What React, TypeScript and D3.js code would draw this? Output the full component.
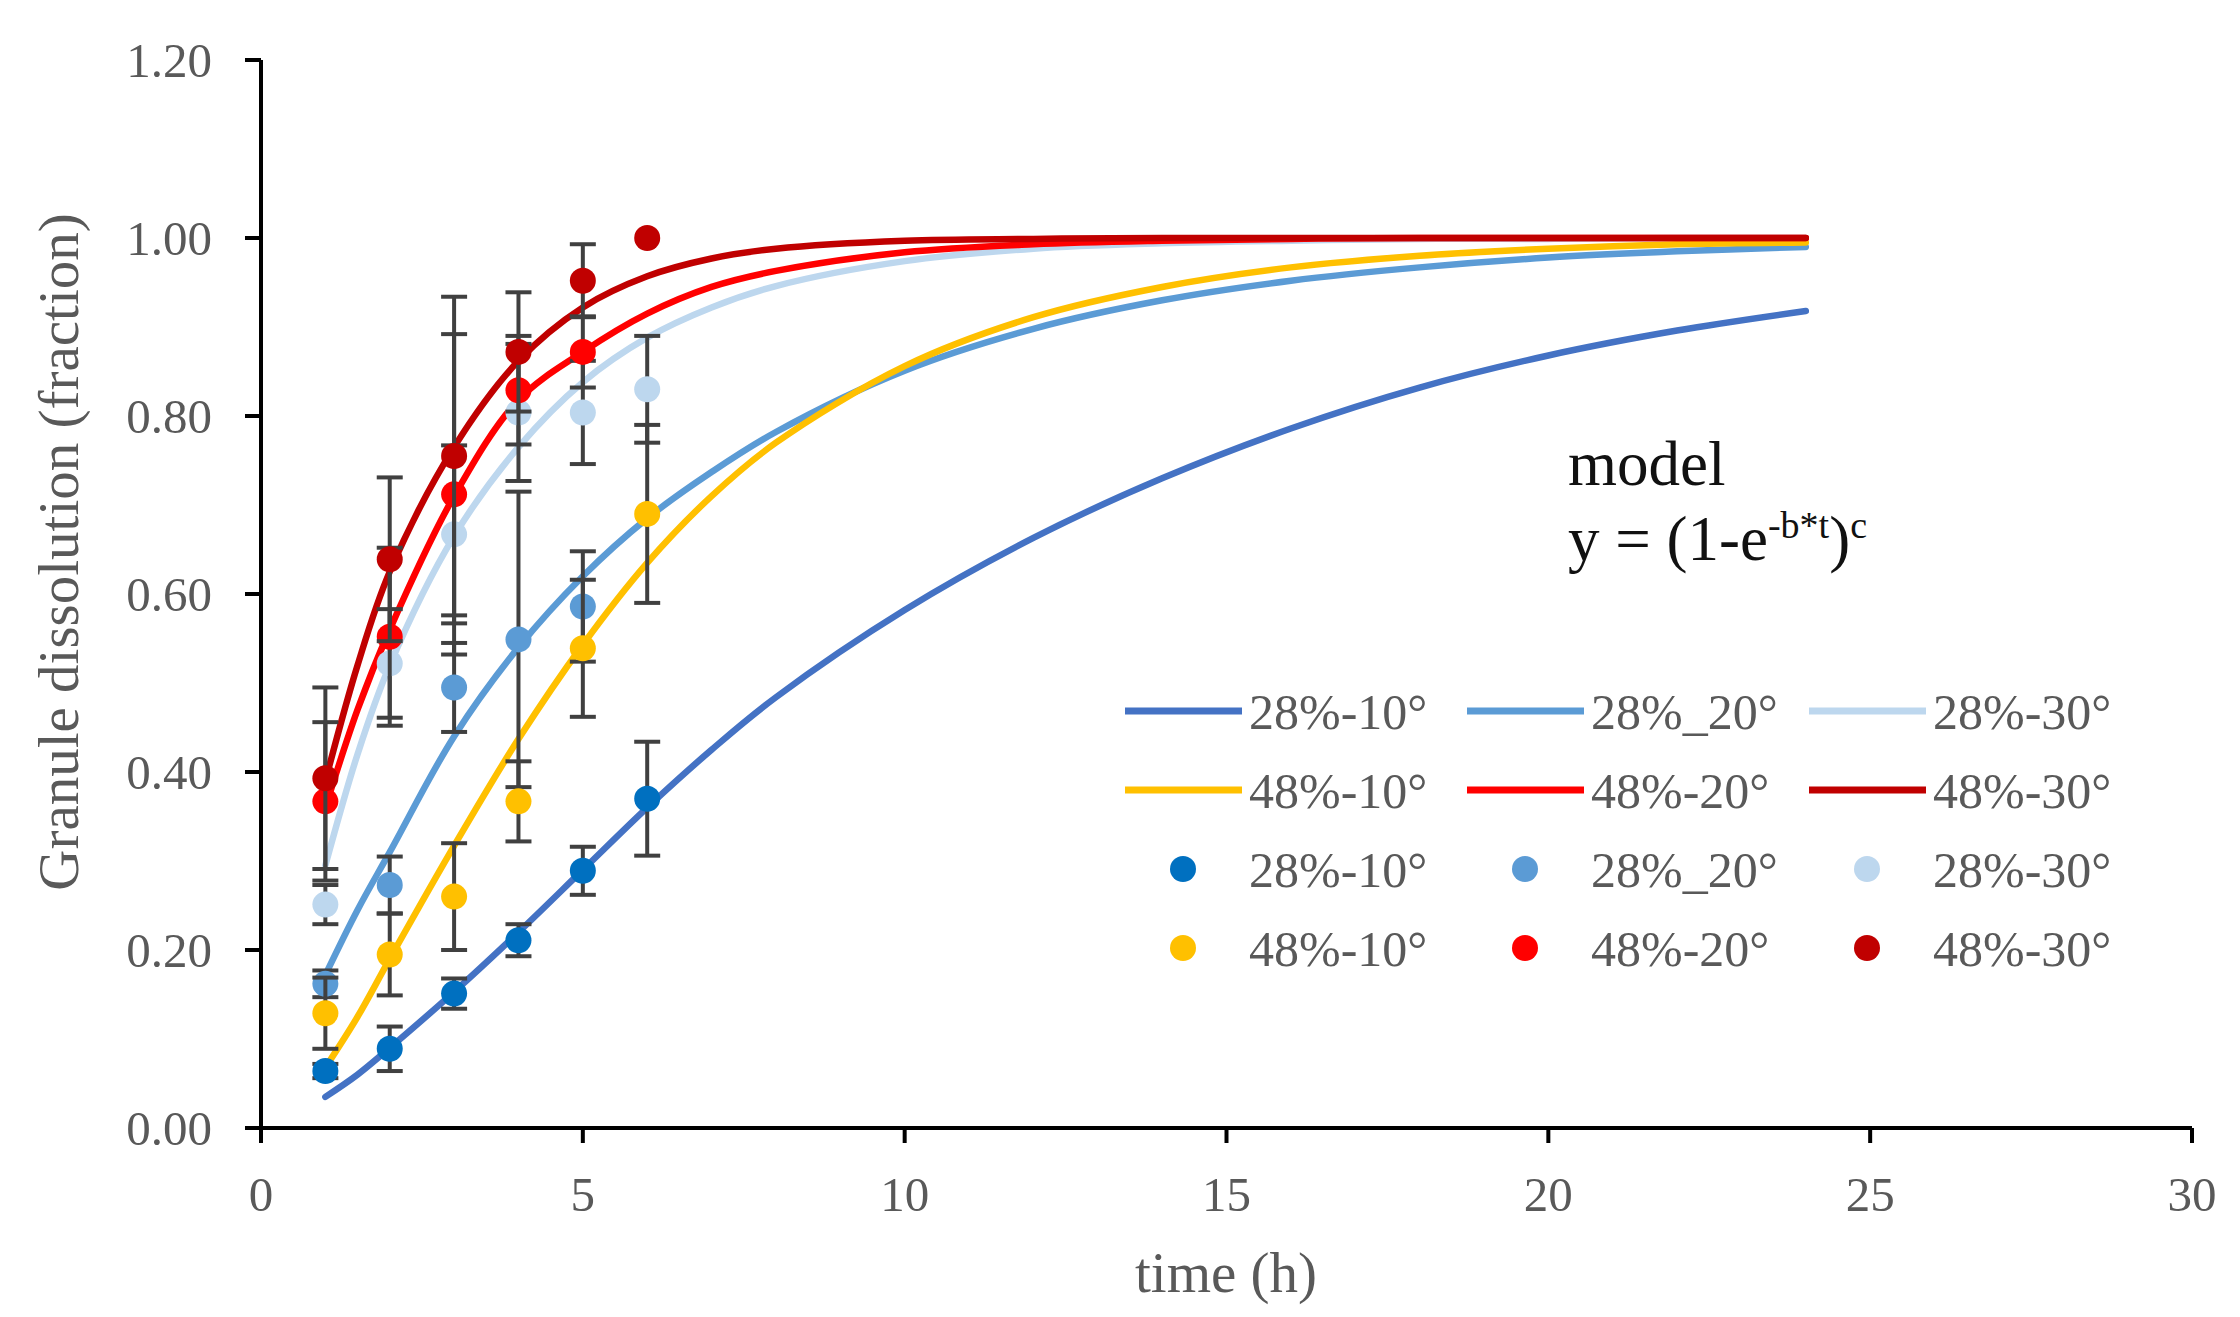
import React from 'react';
import * as d3 from 'd3';

// observed dissolution (mean) and error bars, t = 1..6 h
const obsTimes = [1, 2, 3, 4, 5, 6];
const obs28_10 = [0.064, 0.089, 0.151, 0.211, 0.289, 0.37];
const err28_10 = [0.008, 0.025, 0.017, 0.018, 0.027, 0.064];
const obs28_20 = [0.162, 0.273, 0.495, 0.549, 0.586];
const err28_20 = [0.015, 0.032, 0.05, 0.166, 0.062];
const obs28_30 = [0.251, 0.522, 0.667, 0.804, 0.804, 0.83];
const err28_30 = [0.022, 0.061, 0.1, 0.077, 0.058, 0.06];
const obs48_10 = [0.129, 0.195, 0.26, 0.367, 0.539, 0.69];
const err48_10 = [0.04, 0.046, 0.06, 0.045, 0.077, 0.1];
const obs48_20 = [0.367, 0.552, 0.712, 0.829, 0.872];
const err48_20 = [0.089, 0.1, 0.18, 0.061, 0.04];
const obs48_30 = [0.393, 0.639, 0.755, 0.872, 0.952, 1.0];
const err48_30 = [0.102, 0.092, 0.179, 0.067, 0.041, 0];

// model curves
const fitTimes = [1, 1.5, 2, 3, 4, 5, 6, 7, 8, 10, 12, 14, 16, 18, 20, 22, 24];
const fit28_10 = [0.035, 0.06, 0.09, 0.153, 0.22, 0.29, 0.36, 0.425, 0.484, 0.582, 0.663, 0.73, 0.786, 0.832, 0.868, 0.896, 0.918];
const fit28_20 = [0.172, 0.245, 0.31, 0.44, 0.54, 0.62, 0.685, 0.737, 0.782, 0.851, 0.898, 0.93, 0.952, 0.967, 0.978, 0.985, 0.99];
const fit28_30 = [0.295, 0.42, 0.52, 0.665, 0.765, 0.838, 0.888, 0.922, 0.946, 0.974, 0.988, 0.994, 0.997, 0.999, 0.999, 1.0, 1.0];
const fit48_10 = [0.068, 0.125, 0.19, 0.317, 0.437, 0.543, 0.635, 0.71, 0.77, 0.856, 0.911, 0.945, 0.967, 0.98, 0.988, 0.993, 0.995];
const fit48_20 = [0.36, 0.47, 0.56, 0.71, 0.818, 0.872, 0.915, 0.945, 0.963, 0.984, 0.993, 0.997, 0.999, 1.0, 1.0, 1.0, 1.0];
const fit48_30 = [0.39, 0.52, 0.625, 0.765, 0.862, 0.922, 0.957, 0.977, 0.988, 0.997, 0.999, 1.0, 1.0, 1.0, 1.0, 1.0, 1.0];

const seriesNames = ['28%-10°', '28%_20°', '28%-30°', '48%-10°', '48%-20°', '48%-30°'];
const lineColors = ['#4472C4', '#5B9BD5', '#BDD7EE', '#FFC000', '#FF0000', '#C00000'];
const markerColors = ['#0070C0', '#5B9BD5', '#BDD7EE', '#FFC000', '#FF0000', '#C00000'];

const xTicks = [0, 5, 10, 15, 20, 25, 30];
const yTicks = [0, 0.2, 0.4, 0.6, 0.8, 1.0, 1.2];

const fits = [fit28_10, fit28_20, fit28_30, fit48_10, fit48_20, fit48_30];
const obs = [obs28_10, obs28_20, obs28_30, obs48_10, obs48_20, obs48_30];
const errs = [err28_10, err28_20, err28_30, err48_10, err48_20, err48_30];

const W = 2240;
const H = 1317;
const FONT = '"Liberation Serif", "Times New Roman", serif';
const GREY = '#595959';

const x = d3.scaleLinear().domain([0, 30]).range([261, 2192]);
const y = d3.scaleLinear().domain([0, 1.2]).range([1128, 60]);

const line = d3.line<[number, number]>()
  .x(d => x(d[0]))
  .y(d => y(d[1]))
  .curve(d3.curveCatmullRom.alpha(0.5));

const App: React.FC = () => {
  const legendCols = [1125, 1467, 1809];
  const legendRows = [711, 790, 869, 948];

  return (
    <svg width={W} height={H} style={{ position: 'absolute', left: 0, top: 0, background: '#fff' }}>
      {/* model curves */}
      {fits.map((vals, i) => (
        <path
          key={'fit' + i}
          d={line(fitTimes.map((t, j) => [t, vals[j]] as [number, number])) || ''}
          fill="none"
          stroke={lineColors[i]}
          strokeWidth={6.5}
          strokeLinecap="round"
        />
      ))}

      {/* observed points with error bars */}
      {obs.map((vals, i) => (
        <g key={'obs' + i}>
          {vals.map((v, j) => {
            const e = errs[i][j];
            if (!e) return null;
            const cx = x(obsTimes[j]);
            return (
              <g key={j} stroke="#404040" strokeWidth={4}>
                <line x1={cx} x2={cx} y1={y(v - e)} y2={y(v + e)} />
                <line x1={cx - 13} x2={cx + 13} y1={y(v - e)} y2={y(v - e)} />
                <line x1={cx - 13} x2={cx + 13} y1={y(v + e)} y2={y(v + e)} />
              </g>
            );
          })}
          {vals.map((v, j) => (
            <circle key={'c' + j} cx={x(obsTimes[j])} cy={y(v)} r={13} fill={markerColors[i]} />
          ))}
        </g>
      ))}

      {/* axes */}
      <line x1={x(0)} x2={x(30)} y1={y(0)} y2={y(0)} stroke="#000" strokeWidth={4} />
      <line x1={x(0)} x2={x(0)} y1={y(0)} y2={y(1.2)} stroke="#000" strokeWidth={4} />
      {xTicks.map(t => (
        <g key={'xt' + t}>
          <line x1={x(t)} x2={x(t)} y1={y(0)} y2={y(0) + 15} stroke="#000" strokeWidth={4} />
          <text x={x(t)} y={1211} textAnchor="middle" fontFamily={FONT} fontSize={49} fill={GREY}>
            {t}
          </text>
        </g>
      ))}
      {yTicks.map(t => (
        <g key={'yt' + t}>
          <line x1={x(0) - 16} x2={x(0)} y1={y(t)} y2={y(t)} stroke="#000" strokeWidth={4} />
          <text x={212} y={y(t) + 17} textAnchor="end" fontFamily={FONT} fontSize={49} fill={GREY}>
            {t.toFixed(2)}
          </text>
        </g>
      ))}

      {/* axis titles */}
      <text x={1226} y={1292} textAnchor="middle" fontFamily={FONT} fontSize={57} fill={GREY}>
        time (h)
      </text>
      <text
        transform="translate(78,552) rotate(-90)"
        textAnchor="middle"
        fontFamily={FONT}
        fontSize={57}
        fill={GREY}
      >
        Granule dissolution (fraction)
      </text>

      {/* model annotation */}
      <text x={1568} y={485} fontFamily={FONT} fontSize={63} fill="#111">
        model
      </text>
      <text x={1568} y={560} fontFamily={FONT} fontSize={63} fill="#111">
        y = (1-e
        <tspan fontSize={38} dy={-22}>-b*t</tspan>
        <tspan dy={22}>)</tspan>
        <tspan fontSize={38} dy={-22}>c</tspan>
      </text>

      {/* legend */}
      {seriesNames.map((name, i) => {
        const col = legendCols[i % 3];
        const row = legendRows[Math.floor(i / 3)];
        return (
          <g key={'lgl' + i}>
            <line x1={col} x2={col + 117} y1={row} y2={row} stroke={lineColors[i]} strokeWidth={7} />
            <text x={col + 124} y={row + 18} fontFamily={FONT} fontSize={50} fill={GREY}>
              {name}
            </text>
          </g>
        );
      })}
      {seriesNames.map((name, i) => {
        const col = legendCols[i % 3];
        const row = legendRows[2 + Math.floor(i / 3)];
        return (
          <g key={'lgm' + i}>
            <circle cx={col + 58} cy={row} r={13} fill={markerColors[i]} />
            <text x={col + 124} y={row + 18} fontFamily={FONT} fontSize={50} fill={GREY}>
              {name}
            </text>
          </g>
        );
      })}
    </svg>
  );
};

export default App;
